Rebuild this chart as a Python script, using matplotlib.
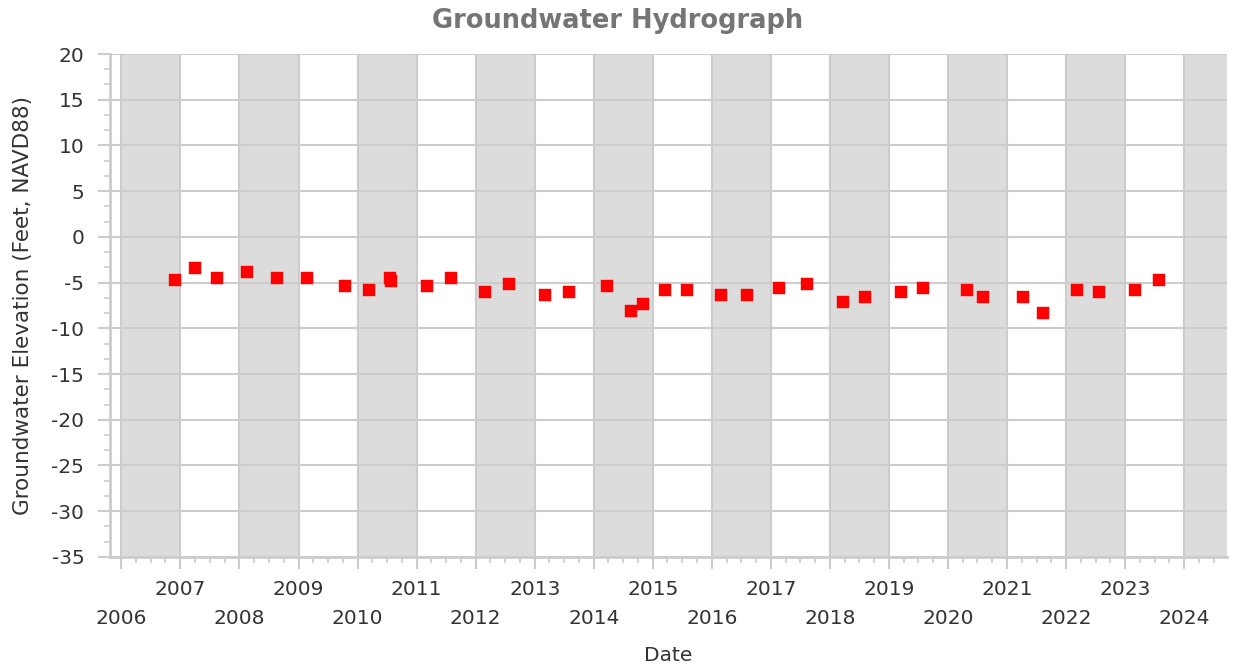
import numpy as np
import pandas as pd
import matplotlib
matplotlib.use("Agg")
import matplotlib.pyplot as plt
import matplotlib.dates as mdates
from matplotlib.ticker import MultipleLocator

plt.rcParams["axes.unicode_minus"] = False

# groundwater readings (date, elevation in feet NAVD88)
dates = [
    "2006-11-27", "2007-03-30", "2007-08-13", "2008-02-15", "2008-08-20",
    "2009-02-21", "2009-10-16", "2010-03-11", "2010-07-23", "2010-07-26",
    "2011-03-07", "2011-08-01", "2012-02-28", "2012-07-27", "2013-03-06",
    "2013-08-01", "2014-03-24", "2014-08-19", "2014-11-01", "2015-03-17",
    "2015-07-31", "2016-02-27", "2016-08-06", "2017-02-20", "2017-08-12",
    "2018-03-24", "2018-08-07", "2019-03-18", "2019-08-01", "2020-04-29",
    "2020-08-06", "2021-04-11", "2021-08-12", "2022-03-10", "2022-07-24",
    "2023-03-04", "2023-07-30",
]
elevation = [
    -4.74, -3.45, -4.55, -3.89, -4.55,
    -4.55, -5.42, -5.86, -4.50, -4.83,
    -5.42, -4.55, -6.08, -5.20, -6.30,
    -6.08, -5.42, -8.05, -7.39, -5.86,
    -5.86, -6.30, -6.30, -5.64, -5.20,
    -7.17, -6.52, -6.08, -5.64, -5.86,
    -6.52, -6.52, -8.27, -5.86, -6.08,
    -5.86, -4.76,
]
years = list(range(2006, 2025))

x = pd.to_datetime(dates)
grid_col = "#cccccc"
text_col = "#333333"

fig = plt.figure(figsize=(12.35, 6.71), dpi=100)
ax = fig.add_axes([0.0891, 0.170, 0.9044, 0.7495])

# alternating year bands
for yr in years[::2]:
    ax.axvspan(pd.Timestamp(f"{yr}-01-01"), pd.Timestamp(f"{yr + 1}-01-01"),
               color="#dcdcdc", lw=0, zorder=0)

ax.plot(x, elevation, ls="none", marker="s", ms=8.6, color="#ff0000",
        mec="#ff0000", mew=0.3, zorder=3)

ax.set_xlim(pd.Timestamp("2005-10-23"), pd.Timestamp("2024-09-21"))
ax.set_ylim(-35, 20)

ax.xaxis.set_major_locator(mdates.YearLocator())
ax.xaxis.set_major_formatter(mdates.DateFormatter("%Y"))
ax.xaxis.set_minor_locator(mdates.MonthLocator(bymonth=[4, 7, 10]))
ax.yaxis.set_major_locator(MultipleLocator(5))
ax.yaxis.set_minor_locator(MultipleLocator(5 / 3))

ax.grid(True, which="major", color=grid_col, lw=1.5, zorder=1)
ax.set_axisbelow(True)

for side in ["top", "right"]:
    ax.spines[side].set_visible(False)
for side in ["left", "bottom"]:
    ax.spines[side].set_color(grid_col)
    ax.spines[side].set_linewidth(2)

ax.tick_params(axis="both", which="major", length=8.5, width=1.5,
               color=grid_col, labelsize=14.5, labelcolor=text_col)
ax.tick_params(axis="both", which="minor", length=4, width=1.2, color=grid_col)
ax.tick_params(axis="y", which="major", pad=10)

# stagger the year labels over two rows
fig.canvas.draw()
for tick, loc in zip(ax.xaxis.get_major_ticks(), ax.xaxis.get_majorticklocs()):
    yr = mdates.num2date(loc).year
    tick.set_pad(29 if yr % 2 == 0 else 8)

ax.set_ylabel("Groundwater Elevation (Feet, NAVD88)", fontsize=15.5,
              color=text_col, labelpad=13)
ax.set_xlabel("Date", fontsize=14.5, color=text_col, labelpad=13)
fig.suptitle("Groundwater Hydrograph", fontsize=18.5, fontweight="bold",
             color="#757575", y=0.988)

fig.savefig("out.png", dpi=100)
